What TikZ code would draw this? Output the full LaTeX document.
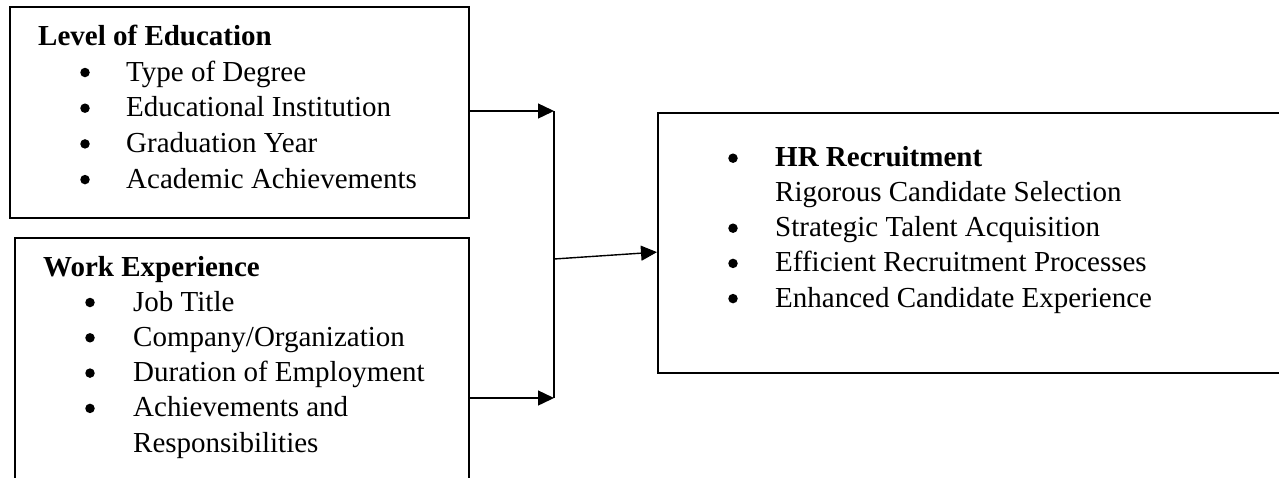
\documentclass[tikz,border=0pt]{standalone}
\usepackage{fontspec}
\setmainfont{Liberation Serif}
\usetikzlibrary{arrows.meta}

\begin{document}
\begin{tikzpicture}[x=1pt, y=-1pt,
  box/.style={draw, line width=2.2pt, anchor=north west, inner sep=0pt},
  txt/.style={anchor=base west, inner sep=0pt, font=\fontsize{29}{35}\selectfont},
  bul/.style={circle, fill, inner sep=0pt, minimum size=9.5pt},
  link/.style={line width=1.4pt, -{Triangle[length=16pt, width=15pt]}}]
  \clip (0,0) rectangle (1279,477);
  % the three boxes
  \node[box, minimum width=459pt, minimum height=211pt] (edu) at (9,6) {};
  \node[box, minimum width=454pt, minimum height=262pt] (wrk) at (14,237) {};
  \node[box, minimum width=640pt, minimum height=260pt] (hr) at (657,111.5) {};
  % level of education
  \node[txt] (edut) at (38,45) {\bfseries Level of Education};
  \foreach \t [count=\i from 0] in {Type of Degree, Educational Institution, Graduation Year, Academic Achievements} {
    \node[bul] (edub\i) at (85,72.5+35.7*\i) {};
    \node[txt] (edu\i) at (126,81+35.7*\i) {\t};
  }
  % work experience
  \node[txt] (wrkt) at (43,276) {\bfseries Work Experience};
  \foreach \t [count=\i from 0] in {Job Title, Company/Organization, Duration of Employment, Achievements and} {
    \node[bul] (wrkb\i) at (90,302.5+35.3*\i) {};
    \node[txt] (wrk\i) at (133,311+35.3*\i) {\t};
  }
  \node[txt] (wrk4) at (133,452) {Responsibilities};
  % hr recruitment
  \node[bul] (hrb0) at (733,158.2) {};
  \node[txt] (hr0) at (775,166.7) {\bfseries HR Recruitment};
  \node[txt] (hrs) at (775,201.5) {Rigorous Candidate Selection};
  \foreach \t [count=\i] in {Strategic Talent Acquisition, Efficient Recruitment Processes, Enhanced Candidate Experience} {
    \node[bul] (hrb\i) at (733,193+35.2*\i) {};
    \node[txt] (hr\i) at (775,201.5+35.2*\i) {\t};
  }
  % joining bar and arrows
  \coordinate (bustop) at (554,111);
  \coordinate (busbot) at (554,398);
  \coordinate (busmid) at (554,259);
  \draw[line width=1.6pt] (bustop) -- (busbot);
  \draw[link] (edu.east |- bustop) -- (bustop);
  \draw[link] (wrk.east |- busbot) -- (busbot);
  \draw[link] (busmid) -- ([yshift=-9.5pt]hr.west);
\end{tikzpicture}
\end{document}
